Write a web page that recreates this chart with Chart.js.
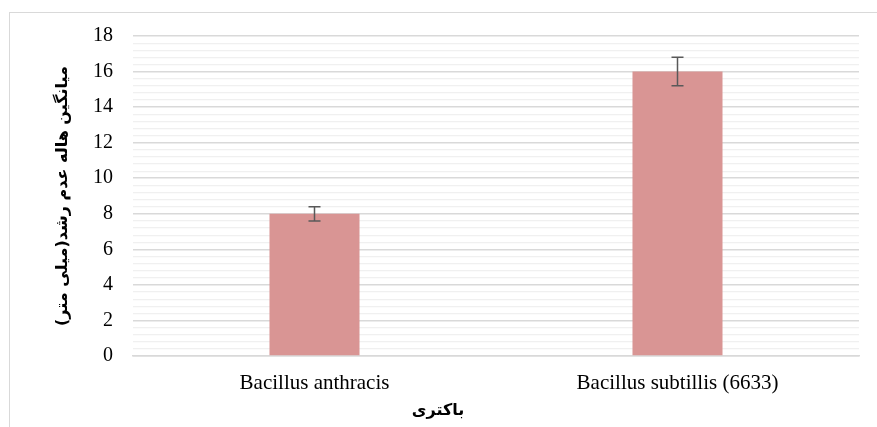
<!DOCTYPE html>
<html>
<head>
<meta charset="utf-8">
<script src="https://cdn.jsdelivr.net/npm/chart.js"></script>
<style>
  body { margin: 0; background: #fff; overflow: hidden; }
  #frame { position: absolute; left: 9px; top: 12px; width: 900px; height: 500px;
           border-left: 1px solid #d9d9d9; border-top: 1px solid #d9d9d9; }
  #wrap { position: absolute; left: 0; top: 0; width: 877px; height: 427px; }
</style>
</head>
<body>
<div id="frame"></div>
<div id="wrap"><canvas id="bakteri"></canvas></div>
<script>
// data
var categories = ['Bacillus anthracis', 'Bacillus subtillis (6633)'];
var meanZone = [8, 16];
var errZone = [0.4, 0.8];
var yTickValues = [];
for (var i = 0; i <= 45; i++) yTickValues.push(Math.round(i * 4) / 10); // 0.4 steps, labels every 2
var xTitle = 'باکتری';
var yTitle = 'میانگین هاله عدم رشد(میلی متر)';

// error bars + x title (centred on the whole chart, not the plot)
var extras = {
    id: 'extras',
    afterDatasetsDraw: function (chart) {
        var c = chart.ctx;
        var y = chart.scales.y;
        var meta = chart.getDatasetMeta(0);
        c.save();
        c.strokeStyle = '#595959';
        c.lineWidth = 1.5;
        meta.data.forEach(function (bar, idx) {
            var v = meanZone[idx], e = errZone[idx];
            var top = y.getPixelForValue(v + e);
            var bot = y.getPixelForValue(v - e);
            c.beginPath();
            c.moveTo(bar.x, top); c.lineTo(bar.x, bot);
            c.moveTo(bar.x - 6, top); c.lineTo(bar.x + 6, top);
            c.moveTo(bar.x - 6, bot); c.lineTo(bar.x + 6, bot);
            c.stroke();
        });
        c.fillStyle = '#000';
        c.font = 'bold 16px "DejaVu Sans"';
        c.textAlign = 'center';
        c.textBaseline = 'middle';
        c.fillText(xTitle, 438, 411);
        c.restore();
    }
};

var ctx = document.getElementById('bakteri').getContext('2d');
var chart = new Chart(ctx, {
    type: 'bar',
    data: {
        labels: categories,
        datasets: [{
            data: meanZone,
            backgroundColor: '#D99594',
            borderWidth: 0,
            categoryPercentage: 1,
            barPercentage: 0.248
        }]
    },
    options: {
        responsive: true,
        maintainAspectRatio: false,
        animation: false,
        layout: { padding: { top: 36, right: 18, bottom: 0, left: 0 } },
        plugins: { legend: { display: false }, tooltip: { enabled: false } },
        scales: {
            x: {
                grid: { display: false, drawTicks: false },
                border: { color: '#d9d9d9', width: 1.5 },
                ticks: { color: '#000', padding: 15, font: { family: 'Liberation Serif', size: 21 } },
                afterFit: function (s) { s.height = 71; }
            },
            y: {
                min: 0, max: 18,
                afterBuildTicks: function (s) {
                    s.ticks = yTickValues.map(function (v) { return { value: v }; });
                },
                grid: {
                    drawTicks: false,
                    color: function (c) { return c.index % 5 === 0 ? '#d9d9d9' : '#f0f0f0'; },
                    lineWidth: function (c) { return c.index % 5 === 0 ? 1.5 : 1.2; }
                },
                border: { display: false },
                ticks: {
                    autoSkip: false, color: '#000', padding: 20,
                    font: { family: 'Liberation Serif', size: 20 },
                    callback: function (v, idx) { return idx % 5 === 0 ? String(Math.round(v)) : ''; }
                },
                title: {
                    display: true, text: yTitle, color: '#000',
                    font: { family: 'DejaVu Sans', size: 16, weight: 'bold' },
                    padding: { top: 53, bottom: 0 }
                },
                afterFit: function (s) { s.width = 133; }
            }
        }
    },
    plugins: [extras]
});
</script>
</body>
</html>
